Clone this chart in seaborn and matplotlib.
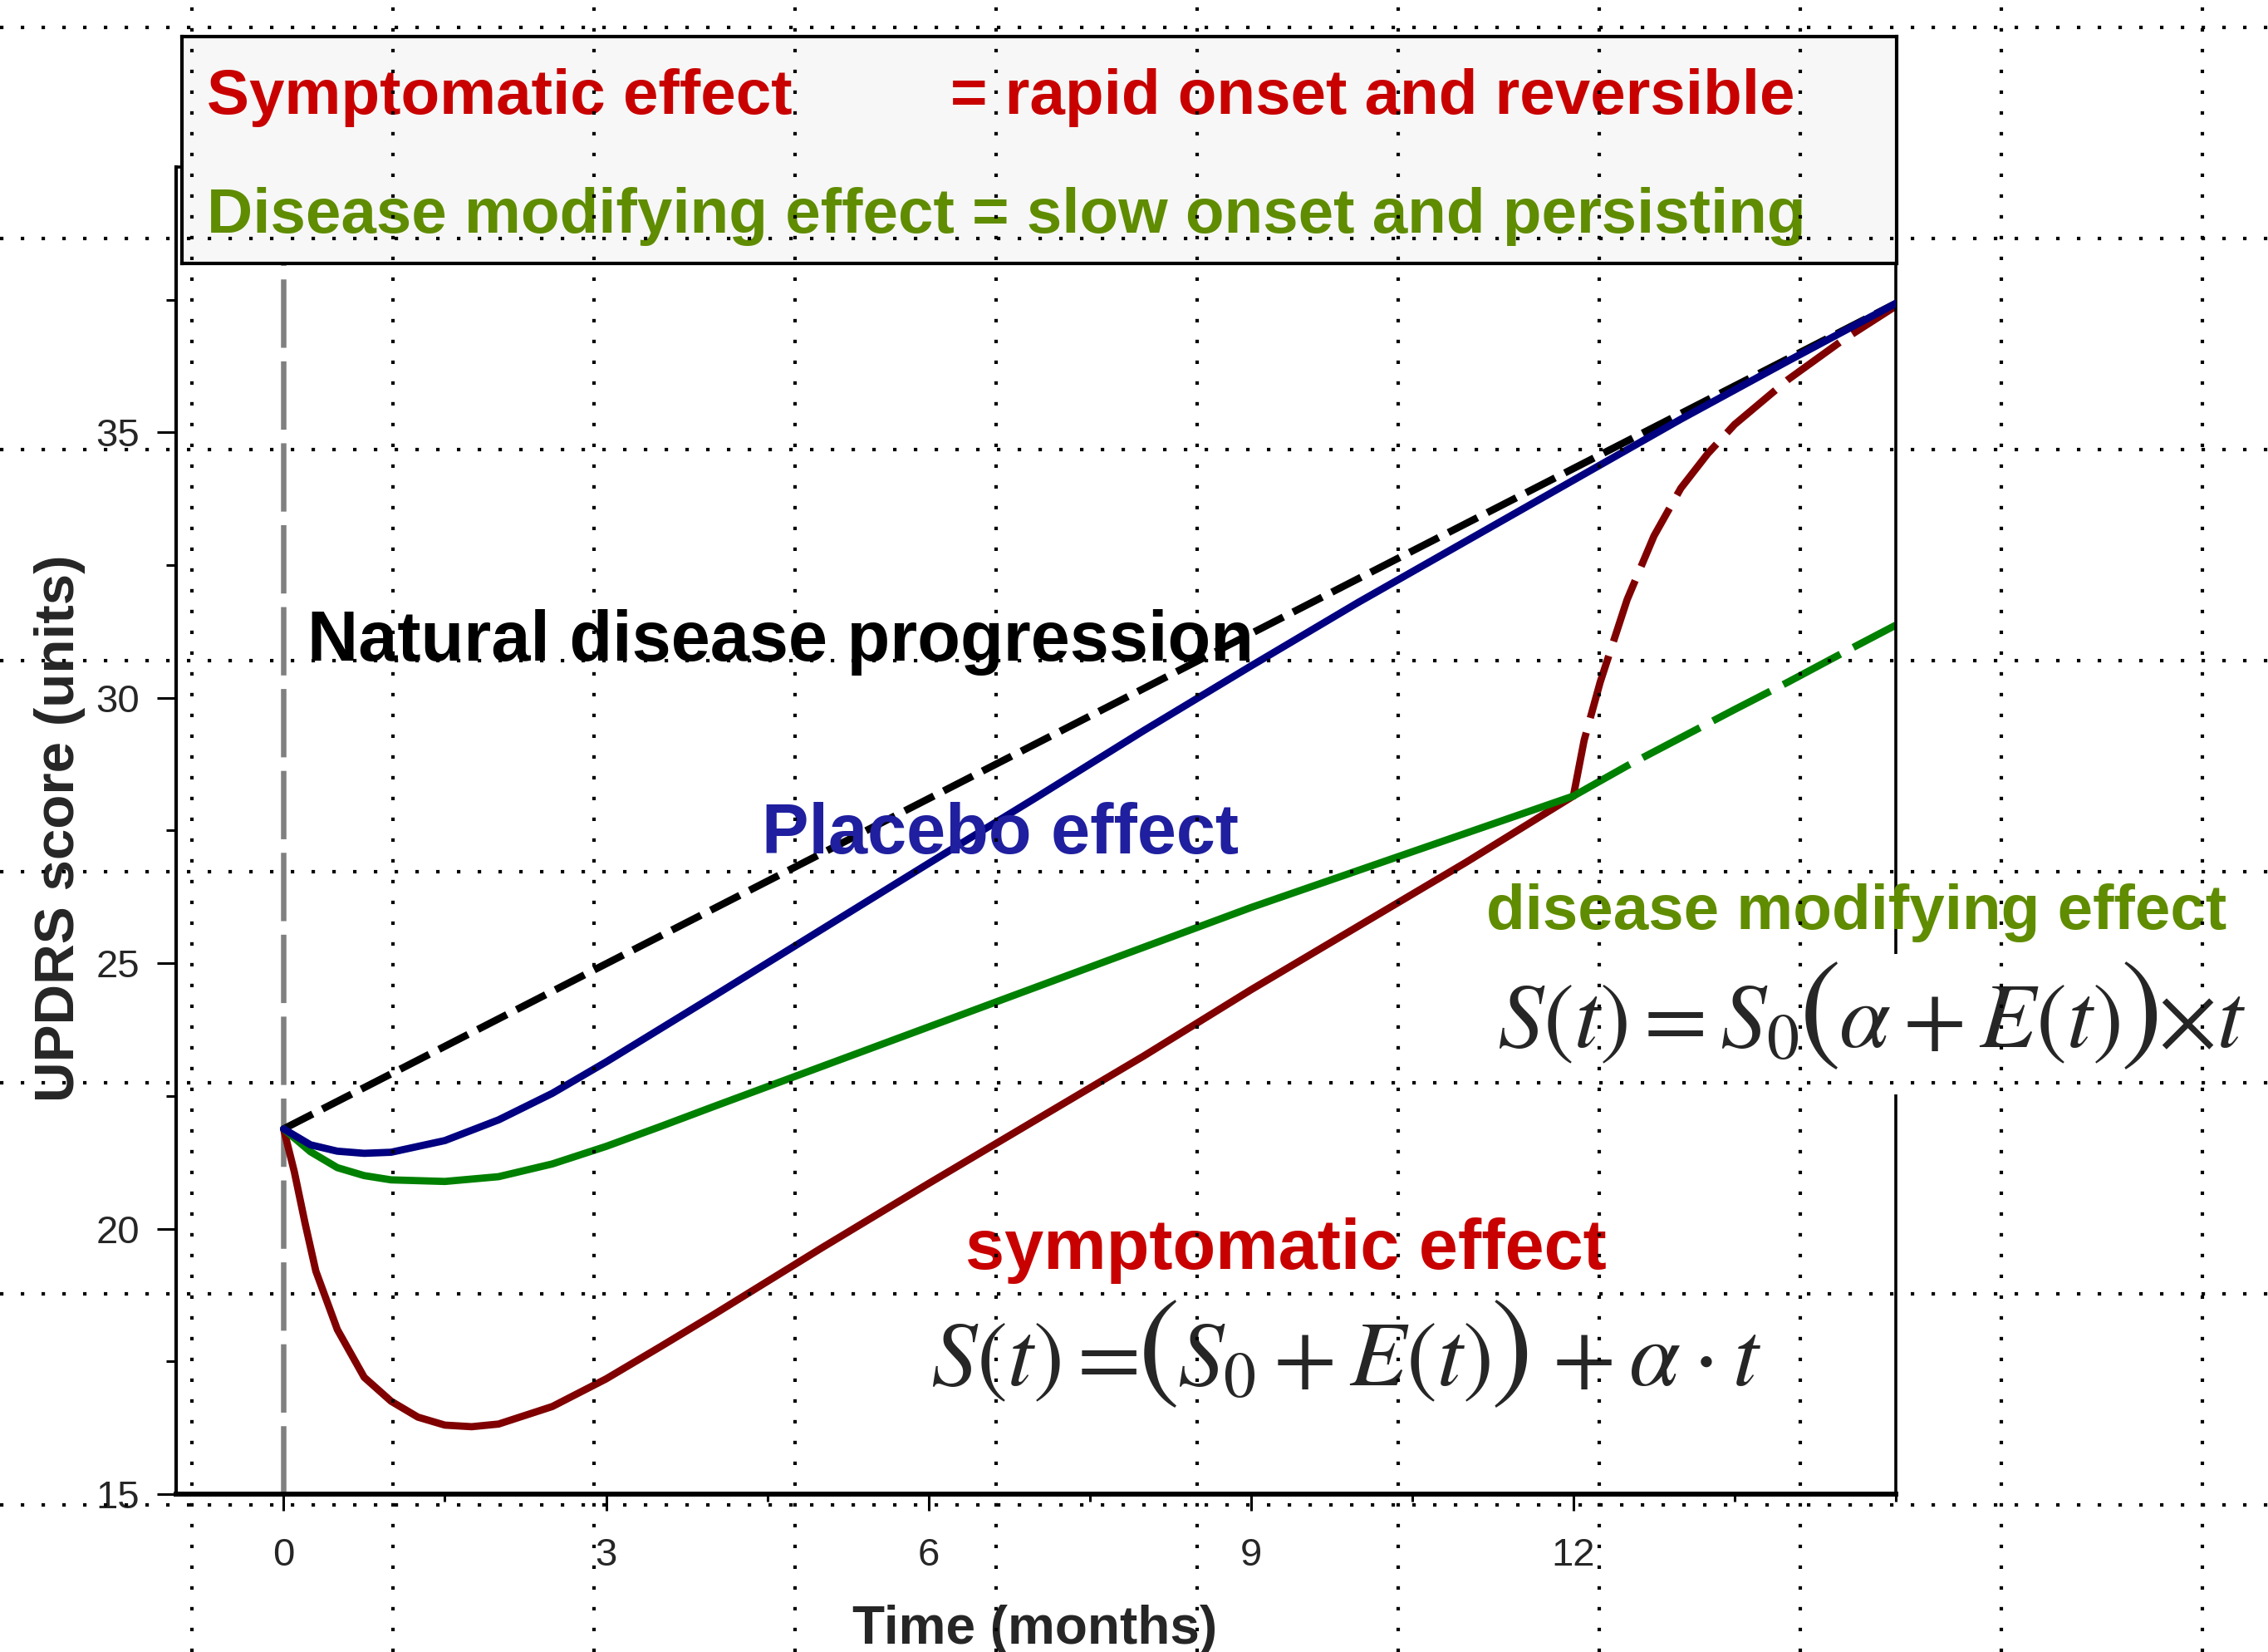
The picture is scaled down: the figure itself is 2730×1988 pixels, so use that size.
"""
UPDRS progression chart: symptomatic vs disease modifying effect.
"""

import numpy as np
import pandas as pd
import matplotlib
matplotlib.use("Agg")
import matplotlib.pyplot as plt
from matplotlib.patches import Rectangle
from matplotlib.ticker import FixedLocator, MultipleLocator
import seaborn as sns

# Data (months, UPDRS units)
natural_t = [0, 15]
natural_y = [21.88, 37.43]

placebo_t = [0, 0.25, 0.5, 0.75, 1, 1.5, 2, 2.5, 3, 3.5, 4, 5, 6, 7, 8, 9, 10, 11, 12,
             13, 14, 15]
placebo_y = [21.88, 21.58, 21.46, 21.42, 21.44, 21.66, 22.05, 22.55, 23.14, 23.76, 24.38,
             25.63, 26.88, 28.12, 29.38, 30.6, 31.8, 32.95, 34.1, 35.25, 36.35, 37.43]

dm_t = [0, 0.25, 0.5, 0.75, 1, 1.5, 2, 2.5, 3, 3.5, 4, 5, 6, 7, 8, 9, 10, 11, 12]
dm_y = [21.88, 21.45, 21.15, 21.0, 20.92, 20.89, 20.98, 21.22, 21.55, 21.92, 22.3, 23.05,
        23.8, 24.55, 25.3, 26.05, 26.75, 27.45, 28.15]
dm_after_t = [12, 12.5, 13, 13.5, 14, 14.5, 15]
dm_after_y = [28.15, 28.72, 29.25, 29.78, 30.3, 30.84, 31.37]

sympt_t = [0, 0.1, 0.2, 0.3, 0.5, 0.75, 1, 1.25, 1.5, 1.75, 2, 2.5, 3, 3.5, 4, 5, 6, 7,
           8, 9, 10, 11, 12]
sympt_y = [21.88, 21.07, 20.1, 19.2, 18.1, 17.2, 16.75, 16.45, 16.3, 16.27, 16.32, 16.65,
           17.17, 17.77, 18.38, 19.63, 20.85, 22.05, 23.25, 24.5, 25.7, 26.9, 28.15]
sympt_after_t = [12, 12.1, 12.25, 12.5, 12.75, 13, 13.25, 13.5, 14, 14.5, 15]
sympt_after_y = [28.15, 29.2, 30.3, 31.85, 33.05, 33.95, 34.6, 35.15, 36.0, 36.73, 37.38]

x_ticks = [0, 3, 6, 9, 12]
y_ticks = [15, 20, 25, 30, 35]
y_minor = [17.5, 22.5, 27.5, 32.5, 37.5]

W, H = 2730, 1988

RED_TXT = "#c80000"
GREEN_TXT = "#5f8c00"
BLUE_TXT = "#1f1f9f"

FORMULA_PT = 80
PAREN_PT = 109


def fx(px):
    return px / W


def fy(py):
    return 1 - py / H


def draw_curve(ax, t, y, color, dashes=None, zorder=3):
    """Tegner en kurve via seaborn."""
    df = pd.DataFrame({"t": t, "y": y})
    kws = {}
    if dashes is not None:
        kws["linestyle"] = (0, dashes)
    sns.lineplot(data=df, x="t", y="y", color=color, linewidth=6.3, errorbar=None,
                 ax=ax, zorder=zorder, **kws)


def chain_text(fig, renderer, x_px, y_px, pieces):
    """Setter formelbiter etter hverandre på samme grunnlinje."""
    x = fx(x_px)
    for s, size in pieces:
        t = fig.text(x, fy(y_px), s, fontsize=size, va="baseline", zorder=4)
        x = t.get_window_extent(renderer).x1 / W


def main():
    sns.set_theme(style="ticks")
    plt.rcParams["font.family"] = ["Liberation Sans", "DejaVu Sans"]
    plt.rcParams["mathtext.fontset"] = "stix"

    fig = plt.figure(figsize=(W / 100, H / 100), dpi=100)
    renderer = fig.canvas.get_renderer()
    ax = fig.add_axes([fx(212), 190 / H, 2070 / W, 1597 / H])

    # Vertikal stiplet linje ved t=0
    ax.axvline(0, color="#808080", linewidth=4.7, linestyle=(0, (12.6, 2.5)), zorder=1)

    # Kurver
    draw_curve(ax, natural_t, natural_y, "black", dashes=(4.5, 1.5), zorder=2)
    draw_curve(ax, sympt_after_t, sympt_after_y, "#800000", dashes=(8.9, 2.1), zorder=2)
    draw_curve(ax, dm_after_t, dm_after_y, "#008000", dashes=(8.9, 2.0), zorder=2)
    draw_curve(ax, sympt_t, sympt_y, "#800000", zorder=3)
    draw_curve(ax, dm_t, dm_y, "#008000", zorder=3)
    draw_curve(ax, placebo_t, placebo_y, "#000080", zorder=4)

    ax.set_xlim(-1, 15)
    ax.set_ylim(15, 40)
    ax.xaxis.set_major_locator(FixedLocator(x_ticks))
    ax.xaxis.set_minor_locator(MultipleLocator(1.5))
    ax.yaxis.set_major_locator(FixedLocator(y_ticks))
    ax.yaxis.set_minor_locator(FixedLocator(y_minor))
    ax.tick_params(axis="x", which="major", length=14.5, width=2.2, labelsize=34,
                   pad=23, color="black", direction="out")
    ax.tick_params(axis="x", which="minor", length=6.5, width=2.2, color="black",
                   direction="out")
    ax.tick_params(axis="y", which="major", length=16.5, width=2.2, labelsize=34,
                   pad=15, color="black", direction="out")
    ax.tick_params(axis="y", which="minor", length=8.6, width=2.2, color="black",
                   direction="out")

    for side, lw in [("left", 3.0), ("bottom", 4.3), ("right", 2.6), ("top", 2.6)]:
        ax.spines[side].set_linewidth(lw)
        ax.spines[side].set_color("black")
        ax.spines[side].set_visible(True)

    ax.set_xlabel("Time (months)", fontsize=46, fontweight="bold")
    ax.xaxis.label.set_va("baseline")
    ax.xaxis.set_label_coords(0.4995, -0.1127)
    ax.set_ylabel("UPDRS score (units)", fontsize=48.5, fontweight="bold")
    ax.yaxis.set_label_coords(-0.0527, 0.502)

    # Forklaringsboks oppe
    box = fig.add_axes([fx(219), fy(317), (2283 - 219) / W, (317 - 44) / H])
    box.set_facecolor("#f7f7f7")
    box.set_xticks([])
    box.set_yticks([])
    for s in box.spines.values():
        s.set_linewidth(3)
        s.set_color("black")
    fig.text(fx(249), fy(137), "Symptomatic effect", color=RED_TXT, fontsize=55,
             fontweight="bold", va="baseline")
    fig.text(fx(1144), fy(137), "= rapid onset and reversible", color=RED_TXT,
             fontsize=55, fontweight="bold", va="baseline")
    fig.text(fx(249), fy(280), "Disease modifying effect = slow onset and persisting",
             color=GREEN_TXT, fontsize=55, fontweight="bold", va="baseline")

    # Annotasjoner i plottet
    fig.text(fx(370), fy(795), "Natural disease progression", color="black",
             fontsize=61, fontweight="bold", va="baseline")
    fig.text(fx(917), fy(1027), "Placebo effect", color=BLUE_TXT, fontsize=61,
             fontweight="bold", va="baseline")
    fig.text(fx(1789), fy(1118), "disease modifying effect", color=GREEN_TXT,
             fontsize=55, fontweight="bold", va="baseline")
    fig.text(fx(1162), fy(1527), "symptomatic effect", color=RED_TXT, fontsize=61,
             fontweight="bold", va="baseline")

    # Hvit bakgrunn bak formelen som dekker høyre akse
    fig.add_artist(Rectangle((fx(1795), fy(1317)), (2725 - 1795) / W, (1317 - 1148) / H,
                             transform=fig.transFigure, facecolor="white",
                             edgecolor="none", zorder=3.5))

    chain_text(fig, renderer, 1802, 1260, [
        (r"$S(t)=S_0$", FORMULA_PT),
        (r"$($", PAREN_PT),
        (r"$\alpha+E(t)$", FORMULA_PT),
        (r"$)$", PAREN_PT),
        (r"$\times t$", FORMULA_PT),
    ])
    chain_text(fig, renderer, 1120, 1667, [
        (r"$S(t)=$", FORMULA_PT),
        (r"$($", PAREN_PT),
        (r"$S_0+E(t)$", FORMULA_PT),
        (r"$)$", PAREN_PT),
        (r"$\,+\alpha\cdot t$", FORMULA_PT),
    ])

    # Prikket rutenett over hele figuren
    grid = fig.add_axes([0, 0, 1, 1], zorder=10)
    grid.set_facecolor("none")
    grid.set_xlim(0, W)
    grid.set_ylim(H, 0)
    grid.set_xticks(np.arange(231, W, 242))
    grid.set_yticks(np.arange(33, H, 254))
    grid.tick_params(length=0, labelbottom=False, labelleft=False)
    for s in grid.spines.values():
        s.set_visible(False)
    grid.grid(True, color="black", linewidth=3.0, linestyle=(0, (1, 5)))

    fig.savefig("out.png", dpi=100)
    plt.close(fig)


if __name__ == "__main__":
    main()
